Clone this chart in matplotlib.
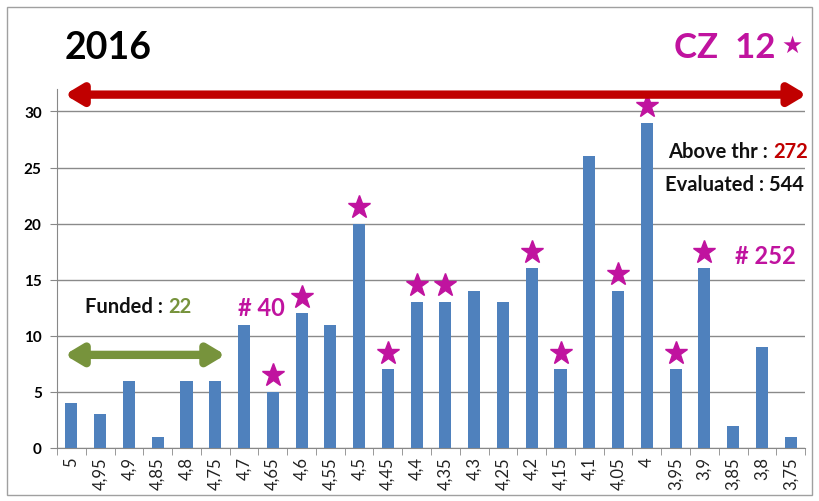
import matplotlib
matplotlib.use("Agg")
import matplotlib.pyplot as plt
import numpy as np
from matplotlib.patches import FancyArrowPatch, Rectangle

categories = ["5", "4,95", "4,9", "4,85", "4,8", "4,75", "4,7", "4,65", "4,6", "4,55",
              "4,5", "4,45", "4,4", "4,35", "4,3", "4,25", "4,2", "4,15", "4,1", "4,05",
              "4", "3,95", "3,9", "3,85", "3,8", "3,75"]
counts = [4, 3, 6, 1, 6, 6, 11, 5, 12, 11, 20, 7, 13, 13, 14, 13, 16, 7, 26, 14, 29, 7, 16, 2, 9, 1]
starred = ["4,65", "4,6", "4,5", "4,45", "4,4", "4,35", "4,2", "4,15", "4,05", "4", "3,95", "3,9"]
yticks = [0, 5, 10, 15, 20, 25, 30]

plt.rcParams['font.family'] = ['Lato', 'DejaVu Sans']

BLUE = "#4F81BD"
MAG = "#C0139F"
RED = "#C00000"
GREEN = "#77933C"

fig = plt.figure(figsize=(8.19, 5.02), dpi=100)
fig.patches.append(Rectangle((0.009, 0.012), 0.982, 0.972, transform=fig.transFigure,
                             fill=False, edgecolor="#A0A0A0", lw=1.0))
ax = fig.add_axes([0.0696, 0.1056, 0.9134, 0.7151])

x = np.arange(len(categories))
ax.bar(x, counts, width=0.42, color=BLUE, zorder=3)

ax.set_xlim(-0.5, len(categories) - 0.5)
ax.set_ylim(0, 32)
ax.set_yticks(yticks)
ax.set_yticklabels([str(v) for v in yticks], fontsize=11, fontweight='bold')
ax.set_xticks(x)
ax.set_xticklabels(categories, rotation=90, fontsize=12, color="#222222")
ax.tick_params(axis='x', length=0, pad=6)
ax.set_xticks(np.arange(-0.5, len(categories), 1.0), minor=True)
ax.tick_params(axis='x', which='minor', length=5, direction='out', color="#888888")
ax.tick_params(axis='y', length=5, direction='out', color="#888888", pad=6)
ax.grid(axis='y', color="#8A8A8A", lw=1.0, zorder=0)
for s in ['top', 'right']:
    ax.spines[s].set_visible(False)
for s in ['left', 'bottom']:
    ax.spines[s].set_color("#888888")
ax.set_axisbelow(True)

# stars above starred bars
sx = [categories.index(c) for c in starred]
sy = [counts[i] + 1.5 for i in sx]
ax.plot(sx, sy, linestyle='none', marker='*', markersize=17, color=MAG, zorder=4, clip_on=False)

# red double arrow
ax.add_patch(FancyArrowPatch((-0.33, 31.5), (25.65, 31.5),
                             arrowstyle='<|-|>,head_length=1.0,head_width=0.6',
                             mutation_scale=10, lw=6, color=RED, clip_on=False, zorder=5))
# green double arrow
ax.add_patch(FancyArrowPatch((-0.33, 8.3), (5.45, 8.3),
                             arrowstyle='<|-|>,head_length=1.0,head_width=0.6',
                             mutation_scale=10, lw=6, color=GREEN, clip_on=False, zorder=5))

# texts
fig.text(65 / 819, 1 - 48 / 502, "2016", fontsize=27, fontweight='bold', color='black',
         va='center', ha='left')
fig.text(775 / 819, 1 - 48 / 502, "CZ  12", fontsize=25, fontweight='bold', color=MAG,
         va='center', ha='right')
fig.text(781 / 819, 1 - 46 / 502, "★", fontsize=17, color=MAG, va='center', ha='left',
         family=['DejaVu Sans'])

fig.text(773 / 819, 1 - 152 / 502, "Above thr : ", fontsize=14.5, fontweight='bold',
         color='#111111', va='center', ha='right')
fig.text(773 / 819, 1 - 152 / 502, "272", fontsize=14.5, fontweight='bold',
         color=RED, va='center', ha='left')
fig.text(665 / 819, 1 - 185 / 502, "Evaluated : 544", fontsize=14.5, fontweight='bold',
         color='#111111', va='center', ha='left')
fig.text(735 / 819, 1 - 257 / 502, "# 252", fontsize=17, fontweight='bold', color=MAG,
         va='center', ha='left')
fig.text(238 / 819, 1 - 309 / 502, "# 40", fontsize=17, fontweight='bold', color=MAG,
         va='center', ha='left')
fig.text(168 / 819, 1 - 307 / 502, "Funded : ", fontsize=14.5, fontweight='bold',
         color='#111111', va='center', ha='right')
fig.text(168 / 819, 1 - 307 / 502, "22", fontsize=14.5, fontweight='bold',
         color=GREEN, va='center', ha='left')

fig.savefig("out.png", dpi=100)
